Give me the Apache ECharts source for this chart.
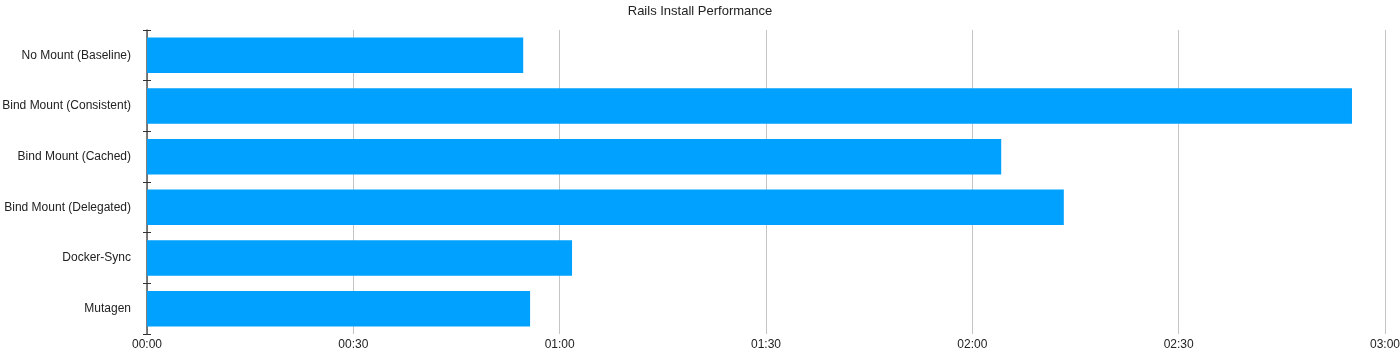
<!DOCTYPE html>
<html>
<head>
<meta charset="utf-8">
<script src="https://cdn.jsdelivr.net/npm/echarts@6/dist/echarts.min.js"></script>
<style>
  html, body { margin: 0; padding: 0; background: #fff; }
  #chart { width: 1400px; height: 354px; }
</style>
</head>
<body>
<div id="chart"></div>
<script>
// categories, top to bottom
const setups = [
  'No Mount (Baseline)',
  'Bind Mount (Consistent)',
  'Bind Mount (Cached)',
  'Bind Mount (Delegated)',
  'Docker-Sync',
  'Mutagen'
]
// install time in seconds
const installSeconds = [54.7, 175.2, 124.2, 133.3, 61.8, 55.7]

// mm:ss
function fmtTime(v) {
  const m = Math.floor(v / 60)
  const s = Math.round(v % 60)
  return String(m).padStart(2, '0') + ':' + String(s).padStart(2, '0')
}

const chart = echarts.init(document.getElementById('chart'))
const font = '"Liberation Sans", Arial, sans-serif'

const option = {
  animation: false,
  textStyle: { fontFamily: font },
  title: {
    text: 'Rails Install Performance',
    left: 'center',
    top: 0,
    textStyle: { fontSize: 13, fontWeight: 'normal', color: '#222', fontFamily: font }
  },
  grid: { left: 147, right: 15, top: 30, bottom: 20, outerBoundsMode: 'none' },
  xAxis: {
    type: 'value',
    min: 0,
    max: 180,
    interval: 30,
    axisLine: { show: false },
    axisTick: { show: false },
    axisLabel: { formatter: fmtTime, color: '#222', fontSize: 12, margin: 5 },
    splitLine: { show: true, lineStyle: { color: '#c4c4c4', width: 1 } }
  },
  yAxis: [
    {
      type: 'category',
      data: setups,
      inverse: true,
      axisLine: { show: true, lineStyle: { color: '#555', width: 1.5 } },
      axisTick: { show: true, length: 4, lineStyle: { color: '#333' } },
      axisLabel: { color: '#222', fontSize: 12, margin: 16 }
    },
    {
      // inner half of the crossing ticks
      type: 'category',
      data: setups,
      inverse: true,
      position: 'left',
      axisLine: { show: false },
      axisTick: { show: true, inside: true, length: 4, lineStyle: { color: '#333' } },
      axisLabel: { show: false }
    }
  ],
  series: [
    {
      type: 'bar',
      data: installSeconds,
      barWidth: '70%',
      itemStyle: { color: '#00a1ff' }
    }
  ]
}

chart.setOption(option)
</script>
</body>
</html>
